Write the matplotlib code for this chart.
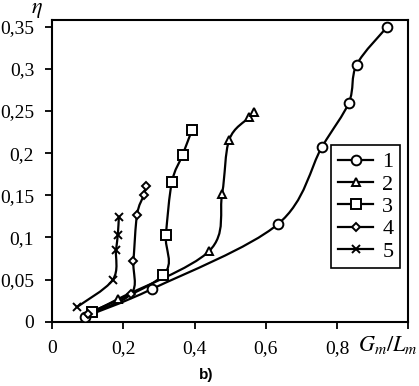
import matplotlib
matplotlib.use("Agg")
import matplotlib.pyplot as plt
from matplotlib.path import Path
from matplotlib.patches import PathPatch
from matplotlib.lines import Line2D

plt.rcParams["mathtext.fontset"] = "stix"

# data
x1 = [0.092, 0.281, 0.633, 0.757, 0.833, 0.855, 0.941]
y1 = [0.006, 0.039, 0.1155, 0.207, 0.260, 0.305, 0.350]
x2 = [0.110, 0.185, 0.441, 0.477, 0.497, 0.553, 0.566]
y2 = [0.011, 0.027, 0.084, 0.152, 0.216, 0.2425, 0.249]
x3 = [0.112, 0.311, 0.319, 0.336, 0.366, 0.392]
y3 = [0.012, 0.055, 0.103, 0.166, 0.198, 0.227]
x4 = [0.100, 0.221, 0.228, 0.238, 0.2566, 0.263]
y4 = [0.009, 0.033, 0.0724, 0.127, 0.150, 0.161]
x5 = [0.068, 0.1695, 0.179, 0.184, 0.187]
y5 = [0.017, 0.0494, 0.085, 0.103, 0.124]
labels = ["1", "2", "3", "4", "5"]
markers = ["o", "^", "s", "D", "x"]
msizes = [7, 6, 7.5, 4.5, 6]

yticks = [0, 0.05, 0.1, 0.15, 0.2, 0.25, 0.3, 0.35]
ytick_labels = ["0", "0,05", "0,1", "0,15", "0,2", "0,25", "0,3", "0,35"]
xticks = [0, 0.2, 0.4, 0.6, 0.8, 1.0]
xtick_labels = ["0", "0,2", "0,4", "0,6", "0,8", ""]

serif = "Liberation Serif"


def smooth_path(xs, ys):
    # Excel-like smoothed line: Catmull-Rom turned into cubic Bezier pieces
    pts = list(zip(xs, ys))
    n = len(pts)
    verts = [pts[0]]
    codes = [Path.MOVETO]
    for i in range(n - 1):
        p0 = pts[i - 1] if i > 0 else pts[i]
        p1 = pts[i]
        p2 = pts[i + 1]
        p3 = pts[i + 2] if i + 2 < n else pts[i + 1]
        c1 = (p1[0] + (p2[0] - p0[0]) / 6, p1[1] + (p2[1] - p0[1]) / 6)
        c2 = (p2[0] - (p3[0] - p1[0]) / 6, p2[1] - (p3[1] - p1[1]) / 6)
        verts += [c1, c2, p2]
        codes += [Path.CURVE4] * 3
    return Path(verts, codes)


fig = plt.figure(figsize=(4.19, 3.86), dpi=100)
ax = fig.add_axes([0.1248, 0.1666, 0.8497, 0.7816])

series = [(x1, y1), (x2, y2), (x3, y3), (x4, y4), (x5, y5)]
handles = []
for (xs, ys), lab, mk, ms in zip(series, labels, markers, msizes):
    ax.add_patch(PathPatch(smooth_path(xs, ys), facecolor="none",
                           edgecolor="black", lw=1.6, zorder=2))
    ax.plot(xs, ys, linestyle="none", marker=mk, ms=ms, mfc="white",
            mec="black", mew=1.4, zorder=3)
    handles.append(Line2D([], [], color="black", lw=1.6, marker=mk, ms=ms,
                          mfc="white", mec="black", mew=1.4, label=lab))

ax.set_xlim(0, 1.0)
ax.set_ylim(0, 0.358)
ax.set_xticks(xticks)
ax.set_xticklabels(xtick_labels, fontfamily=serif, fontsize=14)
ax.set_yticks(yticks)
ax.set_yticklabels(ytick_labels, fontfamily=serif, fontsize=14)
ax.tick_params(direction="out", length=5, width=1.3, colors="black")
ax.tick_params(axis="y", pad=8)
ax.tick_params(axis="x", pad=8)
for s in ax.spines.values():
    s.set_linewidth(1.5)

leg = ax.legend(handles=handles, loc="upper right",
                bbox_to_anchor=(0.977, 0.585), borderaxespad=0,
                fancybox=False, edgecolor="black", framealpha=1,
                prop={"family": serif, "size": 16}, handlelength=1.6,
                labelspacing=0.08, handletextpad=0.4, borderpad=0.3)
leg.get_frame().set_linewidth(1.2)

fig.text(0.088, 0.975, r"$\eta$", fontsize=16, ha="center", va="center")
fig.text(0.997, 0.106, r"$G_m/L_m$", fontsize=16, ha="right", va="center")
fig.text(0.492, 0.028, "b)", fontsize=11, fontweight="bold",
         fontfamily="Liberation Sans", ha="center", va="center")

fig.savefig("out.png", dpi=100)
